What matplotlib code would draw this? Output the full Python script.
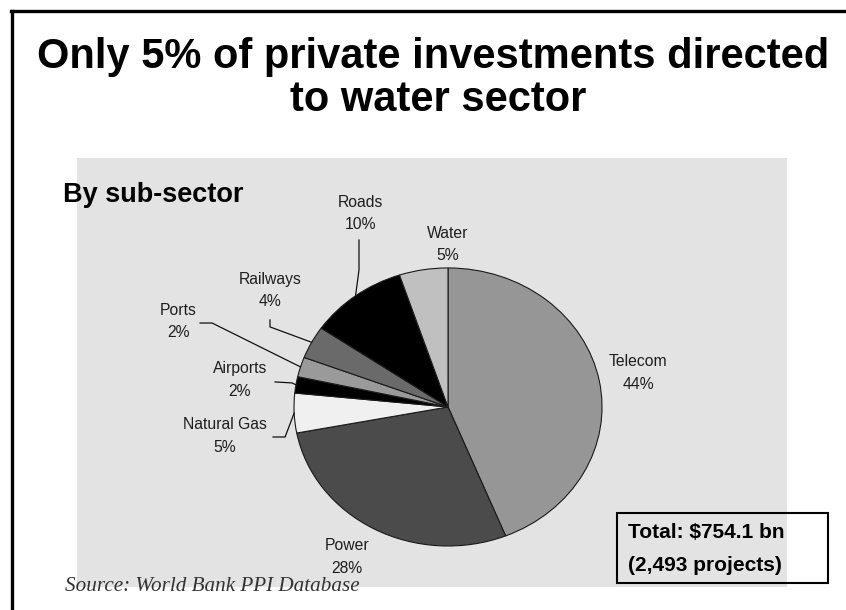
import matplotlib.pyplot as plt
import numpy as np
from matplotlib.patches import Rectangle
from matplotlib.lines import Line2D

# data (share of private investment by sub-sector, clockwise from top)
sectors = ['Telecom', 'Power', 'Natural Gas', 'Airports', 'Ports', 'Railways', 'Roads', 'Water']
shares = [43.9, 28.1, 4.6, 1.9, 2.3, 3.8, 10.3, 5.1]
colors = ['#969696', '#4b4b4b', '#f0f0f0', '#000000', '#9a9a9a', '#6a6a6a', '#000000', '#c0c0c0']

title_lines = ['Only 5% of private investments directed', 'to water sector']
subtitle = 'By sub-sector'
total_lines = ['Total: $754.1 bn', '(2,493 projects)']
source = 'Source: World Bank PPI Database'

# label placement (data units of the pie axes) and leader lines (start, elbow)
label_pos = {
    'Telecom': (1.234, 0.245),
    'Power': (-0.656, -1.079),
    'Natural Gas': (-1.448, -0.209),
    'Airports': (-1.351, 0.194),
    'Ports': (-1.753, 0.612),
    'Railways': (-1.156, 0.835),
    'Roads': (-0.571, 1.392),
    'Water': (0.0, 1.169),
}
leaders = {
    'Roads': [(-0.578, 1.201), (-0.578, 0.986)],
    'Railways': [(-1.156, 0.626), (-1.156, 0.576)],
    'Ports': [(-1.610, 0.604), (-1.532, 0.604)],
    'Airports': [(-1.123, 0.180), (-1.013, 0.173)],
    'Natural Gas': [(-1.136, -0.216), (-1.058, -0.216)],
}

W, H = 846, 610


def fx(x):
    return x / W


def fy(y):
    return 1 - y / H


fig = plt.figure(figsize=(W / 100, H / 100), dpi=100)
fig.patch.set_facecolor('white')

# slide border (left + top)
fig.add_artist(Line2D([fx(12), fx(12)], [fy(10.5), 0], color='black', lw=2.4))
fig.add_artist(Line2D([fx(10.5), 1], [fy(10.5), fy(10.5)], color='black', lw=2.4))

# title
fig.text(fx(433), fy(68), title_lines[0], ha='center', va='baseline',
         fontsize=30, fontweight='bold', family='Liberation Sans')
fig.text(fx(438), fy(111), title_lines[1], ha='center', va='baseline',
         fontsize=30, fontweight='bold', family='Liberation Sans')

# pie axes on the gray panel
ax = fig.add_axes([fx(77), 23 / H, 710 / W, 429 / H])
wedges, _ = ax.pie(shares, colors=colors, startangle=90, counterclock=False,
                   wedgeprops=dict(edgecolor='#1a1a1a', linewidth=0.8))
ax.set_aspect('auto')
ax.set_xlim(-2.409, 2.201)
ax.set_ylim(-1.295, 1.791)
ax.set_frame_on(True)
for s in ax.spines.values():
    s.set_visible(False)
ax.set_facecolor('#e3e3e3')
ax.set_xticks([])
ax.set_yticks([])

for name, val, w in zip(sectors, shares, wedges):
    lx, ly = label_pos[name]
    ax.text(lx, ly, f'{name}\n{val:.0f}%', ha='center', va='center',
            fontsize=11.3, color='#1e1e1e', family='Liberation Sans', linespacing=1.6)
    if name in leaders:
        mid = np.deg2rad((w.theta1 + w.theta2) / 2)
        pts = leaders[name] + [(np.cos(mid), np.sin(mid))]
        xs, ys = zip(*pts)
        ax.plot(xs, ys, color='#111111', lw=0.9)

fig.text(fx(63), fy(202), subtitle, ha='left', va='baseline',
         fontsize=19.5, fontweight='bold', family='Liberation Sans')

# total box
fig.add_artist(Rectangle((fx(617), fy(583)), (828 - 617) / W, (583 - 513) / H,
                         fill=False, edgecolor='black', lw=1.5, transform=fig.transFigure))
fig.text(fx(628), fy(538), total_lines[0], ha='left', va='baseline',
         fontsize=15, fontweight='bold', family='Liberation Sans')
fig.text(fx(628), fy(571), total_lines[1], ha='left', va='baseline',
         fontsize=15, fontweight='bold', family='Liberation Sans')

fig.text(fx(65), fy(591), source, ha='left', va='baseline',
         fontsize=15.2, style='italic', family='Liberation Serif', color='#333333')

fig.savefig('out.png', dpi=100)
